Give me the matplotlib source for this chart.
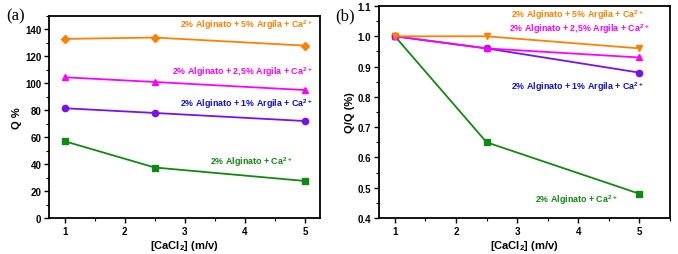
import numpy as np
import matplotlib.pyplot as plt
from matplotlib.ticker import MultipleLocator

# data
cacl2 = [1, 2.5, 5]

q_ctrl = [57, 37.5, 27.5]
q_1pct = [81.5, 78, 72]
q_25pct = [104.5, 101, 95]
q_5pct = [133, 134, 128]

r_ctrl = [1.0, 0.65, 0.48]
r_1pct = [1.0, 0.96, 0.88]
r_25pct = [1.0, 0.96, 0.93]
r_5pct = [1.0, 1.0, 0.96]

lbl_ctrl = "2% Alginato + Ca$^{2+}$"
lbl_1pct = "2% Alginato + 1% Argila + Ca$^{2+}$"
lbl_25pct = "2% Alginato + 2,5% Argila + Ca$^{2+}$"
lbl_5pct = "2% Alginato + 5% Argila + Ca$^{2+}$"

orange = "#ff8000"
magenta = "#ff00ff"
violet = "#7a10f0"
blue_txt = "#1010d0"
green = "#108a10"

plt.rcParams['font.family'] = ['Liberation Sans', 'DejaVu Sans']
plt.rcParams['font.weight'] = 'bold'
plt.rcParams['mathtext.fontset'] = 'custom'
plt.rcParams['mathtext.rm'] = 'Liberation Sans:bold'
plt.rcParams['mathtext.bf'] = 'Liberation Sans:bold'
plt.rcParams['mathtext.default'] = 'bf'

fig = plt.figure(figsize=(6.78, 2.55), dpi=100)
ax1 = fig.add_axes([49 / 678, 36 / 255, 271 / 678, 202 / 255])
ax2 = fig.add_axes([379 / 678, 36 / 255, 291 / 678, 212 / 255])


def style(ax):
    for s in ax.spines.values():
        s.set_linewidth(1.3)
    ax.tick_params(which='major', length=3.5, width=1, labelsize=7, pad=2)
    ax.tick_params(which='minor', length=2, width=0.8)
    ax.xaxis.set_major_locator(MultipleLocator(1))
    ax.xaxis.set_minor_locator(MultipleLocator(0.5))
    for lab in ax.get_xticklabels() + ax.get_yticklabels():
        lab.set_fontweight('bold')
    ax.set_xlabel("[CaCl$_2$] (m/v)", fontsize=8, fontweight='bold', labelpad=2)


ms = 4.5
# panel (a)
ax1.plot(cacl2, q_5pct, '-D', color=orange, ms=ms - 0.5, lw=1.3)
ax1.plot(cacl2, q_25pct, '-^', color=magenta, ms=ms, lw=1.3)
ax1.plot(cacl2, q_1pct, '-o', color=violet, ms=ms, lw=1.3)
ax1.plot(cacl2, q_ctrl, '-s', color=green, ms=ms - 0.5, lw=1.3)
ax1.set_xlim(0.74, 5.25)
ax1.set_ylim(0, 150)
ax1.yaxis.set_major_locator(MultipleLocator(20))
ax1.yaxis.set_minor_locator(MultipleLocator(10))
ax1.set_ylabel("Q %", fontsize=8, fontweight='bold', labelpad=2)
style(ax1)
fs = 6.4
ax1.text(5.13, 144, lbl_5pct, color=orange, fontsize=fs, ha='right', va='center')
ax1.text(5.13, 109, lbl_25pct, color=magenta, fontsize=fs, ha='right', va='center')
ax1.text(5.13, 85.5, lbl_1pct, color=blue_txt, fontsize=fs, ha='right', va='center')
ax1.text(4.8, 42.5, lbl_ctrl, color=green, fontsize=fs, ha='right', va='center')

# panel (b)
ax2.plot(cacl2, r_ctrl, '-s', color=green, ms=ms - 0.5, lw=1.3)
ax2.plot(cacl2, r_1pct, '-o', color=violet, ms=ms, lw=1.3)
ax2.plot(cacl2, r_25pct, '-^', color=magenta, ms=ms, lw=1.3)
ax2.plot(cacl2, r_5pct, '-v', color=orange, ms=ms, lw=1.3)
ax2.set_xlim(0.74, 5.5)
ax2.set_ylim(0.4, 1.1)
ax2.yaxis.set_major_locator(MultipleLocator(0.1))
ax2.yaxis.set_minor_locator(MultipleLocator(0.05))
ax2.set_ylabel("Q/Q (%)", fontsize=8, fontweight='bold', labelpad=2)
style(ax2)
ax2.text(5.08, 1.073, lbl_5pct, color=orange, fontsize=fs, ha='right', va='center')
ax2.text(5.16, 1.027, lbl_25pct, color=magenta, fontsize=fs, ha='right', va='center')
ax2.text(5.08, 0.836, lbl_1pct, color=blue_txt, fontsize=fs, ha='right', va='center')
ax2.text(4.64, 0.463, lbl_ctrl, color=green, fontsize=fs, ha='right', va='center')

fig.text(6 / 678, 1 - 16 / 255, "(a)", fontsize=12, family='Liberation Serif',
         fontweight='normal', va='center', ha='left')
fig.text(335 / 678, 1 - 16 / 255, "(b)", fontsize=12, family='Liberation Serif',
         fontweight='normal', va='center', ha='left')

fig.savefig("out.png", dpi=100)
